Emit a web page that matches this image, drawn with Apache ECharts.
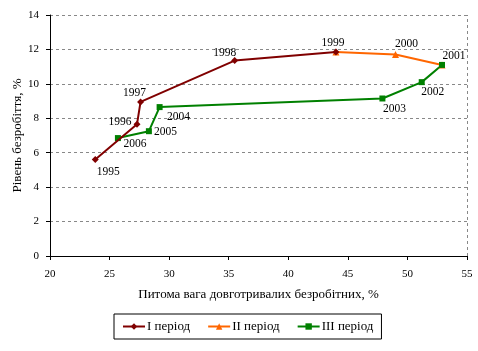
<!DOCTYPE html>
<html><head><meta charset="utf-8">
<script src="https://cdn.jsdelivr.net/npm/echarts@6/dist/echarts.min.js"></script>
<style>html,body{margin:0;padding:0;background:#fff}#c{width:478px;height:351px}</style>
</head><body><div id="c"></div>
<script>
const yearsI = ['1995','1996','1997','1998','1999'];
const xI = [23.8, 27.3, 27.6, 35.5, 44.0];
const yI = [5.6, 7.65, 8.95, 11.35, 11.85];
const yearsII = ['1999','2000','2001'];
const xII = [44.0, 49.0, 52.9];
const yII = [11.85, 11.7, 11.1];
const yearsIII = ['2001','2002','2003','2004','2005','2006'];
const xIII = [52.9, 51.2, 47.9, 29.2, 28.3, 25.7];
const yIII = [11.1, 10.1, 9.15, 8.65, 7.25, 6.85];
const xTicks = [20,25,30,35,40,45,50,55];
const yTicks = [0,2,4,6,8,10,12,14];

const labelPos = {
  '1995':{position:'bottom',offset:[13,-2]},
  '1996':{position:'left',offset:[3,-2]},
  '1997':{position:'top',offset:[-6,6]},
  '1998':{position:'top',offset:[-10,7]},
  '1999':{position:'top',offset:[-3,5]},
  '2000':{position:'top',offset:[11,4]},
  '2001':{position:'top',offset:[12,6]},
  '2002':{position:'bottom',offset:[11,-4]},
  '2003':{position:'bottom',offset:[12,-4]},
  '2004':{position:'bottom',offset:[19,-4]},
  '2005':{position:'right',offset:[-3,1]},
  '2006':{position:'bottom',offset:[17,-8]}
};
const FONT = '"Liberation Serif", "DejaVu Serif", serif';
function mk(xs, ys, yrs, showIdx){
  return xs.map((x,i)=>{
    const d = {value:[x, ys[i]], name: yrs[i]};
    if (showIdx.includes(i)) {
      d.label = Object.assign({show:true, formatter: yrs[i], color:'#000', fontFamily:FONT, fontSize:11.5}, labelPos[yrs[i]]);
    } else d.label = {show:false};
    return d;
  });
}
const chart = echarts.init(document.getElementById('c'));
chart.setOption({
  animation:false,
  textStyle:{fontFamily:FONT},
  grid:{left:50,right:11,top:15,bottom:95,containLabel:false,outerBoundsMode:'none'},
  xAxis:{type:'value',min:20,max:55,interval:5,
    name:'Питома вага довготривалих безробітних, %',nameLocation:'middle',nameGap:32,
    nameTextStyle:{fontFamily:FONT,fontSize:13,color:'#000'},
    axisLine:{lineStyle:{color:'#000'}},axisTick:{show:true,length:4,lineStyle:{color:'#000'}},
    axisLabel:{color:'#000',fontFamily:FONT,fontSize:11,margin:13,formatter:v=>xTicks.includes(v)?String(v):''},
    splitLine:{show:false}},
  yAxis:{type:'value',min:0,max:14,interval:2,
    name:'Рівень безробіття, %',nameLocation:'middle',nameGap:26,nameMoveOverlap:false,
    nameTextStyle:{fontFamily:FONT,fontSize:13,color:'#000'},
    axisLine:{show:true,lineStyle:{color:'#000'}},axisTick:{show:true,length:4,lineStyle:{color:'#000'}},
    axisLabel:{color:'#000',fontFamily:FONT,fontSize:11,margin:11,formatter:v=>yTicks.includes(v)?String(v):''},
    splitLine:{show:true,lineStyle:{color:'#888',type:[3,3],width:1}}},
  legend:{top:314,left:114,orient:'horizontal',
    data:['I період','II період','III період'],
    borderColor:'#000',borderWidth:1,padding:[6,8,6,8],itemGap:17,itemWidth:22,itemHeight:8,
    textStyle:{fontFamily:FONT,fontSize:13,color:'#000',padding:[0,0,0,-3]}},
  series:[
    {name:'I період',type:'line',data:mk(xI,yI,yearsI,[0,1,2,3,4]),
     color:'#800000',lineStyle:{width:2},symbol:'diamond',symbolSize:7,z:3},
    {name:'II період',type:'line',data:mk(xII,yII,yearsII,[1,2]),
     color:'#ff6600',lineStyle:{width:2},symbol:'triangle',symbolSize:7,z:2,
     markLine:{silent:true,symbol:'none',label:{show:false},
       lineStyle:{color:'#888',type:[3,3],width:1},data:[{xAxis:55}]}},
    {name:'III період',type:'line',data:mk(xIII,yIII,yearsIII,[1,2,3,4,5]),
     color:'#008000',lineStyle:{width:2},symbol:'rect',symbolSize:6,z:2}
  ]
});
</script></body></html>
